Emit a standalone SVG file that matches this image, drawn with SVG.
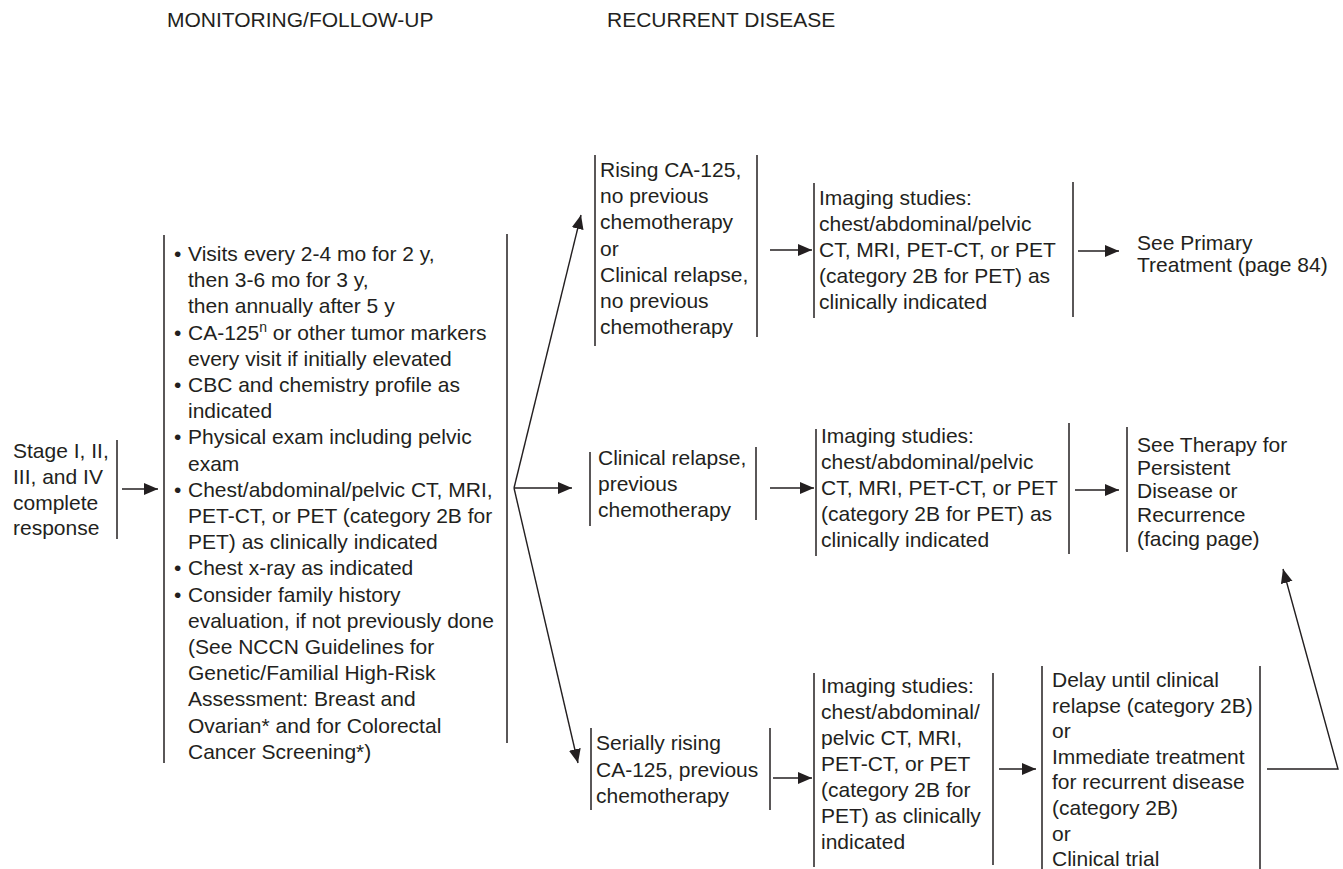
<svg xmlns="http://www.w3.org/2000/svg" width="1343" height="869" viewBox="0 0 1343 869">
<style>
text{font-family:"Liberation Sans",Arial,sans-serif;font-size:21px;fill:#231f20}
.bar{stroke:#231f20;stroke-width:1.5;fill:none}
.con{stroke:#231f20;stroke-width:1.4;fill:none}
.arr{marker-end:url(#ah)}
</style>
<defs>
<marker id="ah" markerUnits="userSpaceOnUse" markerWidth="16" markerHeight="14" refX="14" refY="6" orient="auto">
<path d="M0,0 L14,6 L0,12 Z" fill="#231f20"/>
</marker>
</defs>
<rect width="1343" height="869" fill="#fff"/>
<g id="headers">
<text x="167" y="27">MONITORING/FOLLOW-UP</text>
<text x="607" y="27">RECURRENT DISEASE</text>
</g>
<g id="connectors">
<line class="con arr" x1="122" y1="489" x2="158" y2="489"/>
<line class="con arr" x1="514" y1="488" x2="581" y2="215"/>
<line class="con arr" x1="514" y1="488" x2="572" y2="488"/>
<line class="con arr" x1="514" y1="488" x2="578" y2="763"/>
<line class="con arr" x1="770" y1="250" x2="812" y2="250"/>
<line class="con arr" x1="1078" y1="251" x2="1119" y2="251"/>
<line class="con arr" x1="770" y1="488" x2="814" y2="488"/>
<line class="con arr" x1="1075" y1="490" x2="1119" y2="490"/>
<line class="con arr" x1="773" y1="778" x2="812" y2="778"/>
<line class="con arr" x1="999" y1="769" x2="1036" y2="769"/>
<polyline class="con arr" points="1267,769 1338,769 1283,569"/>
</g>
<g id="stage">
<line class="bar" x1="117" y1="440" x2="117" y2="539"/>
<text x="13" y="458">Stage I, II,</text>
<text x="13" y="484">III, and IV</text>
<text x="13" y="510">complete</text>
<text x="13" y="535">response</text>
</g>
<g id="followup">
<line class="bar" x1="164" y1="235" x2="164" y2="763"/>
<line class="bar" x1="507" y1="234" x2="507" y2="743"/>
<text x="174" y="261">•</text>
<text x="188" y="261">Visits every 2-4 mo for 2 y,</text>
<text x="188" y="287.2">then 3-6 mo for 3 y,</text>
<text x="188" y="313.4">then annually after 5 y</text>
<text x="174" y="339.6">•</text>
<text x="188" y="339.6">CA-125<tspan font-size="14" dy="-8">n</tspan><tspan dy="8"> or other tumor markers</tspan></text>
<text x="188" y="365.8">every visit if initially elevated</text>
<text x="174" y="392">•</text>
<text x="188" y="392">CBC and chemistry profile as</text>
<text x="188" y="418.2">indicated</text>
<text x="174" y="444.4">•</text>
<text x="188" y="444.4">Physical exam including pelvic</text>
<text x="188" y="470.6">exam</text>
<text x="174" y="496.8">•</text>
<text x="188" y="496.8">Chest/abdominal/pelvic CT, MRI,</text>
<text x="188" y="523">PET-CT, or PET (category 2B for</text>
<text x="188" y="549.2">PET) as clinically indicated</text>
<text x="174" y="575.4">•</text>
<text x="188" y="575.4">Chest x-ray as indicated</text>
<text x="174" y="601.6">•</text>
<text x="188" y="601.6">Consider family history</text>
<text x="188" y="627.8">evaluation, if not previously done</text>
<text x="188" y="654">(See NCCN Guidelines for</text>
<text x="188" y="680.2">Genetic/Familial High-Risk</text>
<text x="188" y="706.4">Assessment: Breast and</text>
<text x="188" y="732.6">Ovarian* and for Colorectal</text>
<text x="188" y="758.8">Cancer Screening*)</text>
</g>
<g id="rising">
<line class="bar" x1="595" y1="155" x2="595" y2="346"/>
<line class="bar" x1="757" y1="155" x2="757" y2="337"/>
<text x="600" y="177">Rising CA-125,</text>
<text x="600" y="203.2">no previous</text>
<text x="600" y="229.4">chemotherapy</text>
<text x="600" y="255.6">or</text>
<text x="600" y="281.8">Clinical relapse,</text>
<text x="600" y="308">no previous</text>
<text x="600" y="334.2">chemotherapy</text>
</g>
<g id="imaging1">
<line class="bar" x1="814" y1="183" x2="814" y2="318"/>
<line class="bar" x1="1073" y1="182" x2="1073" y2="317"/>
<text x="819" y="205">Imaging studies:</text>
<text x="819" y="231">chest/abdominal/pelvic</text>
<text x="819" y="257">CT, MRI, PET-CT, or PET</text>
<text x="819" y="283">(category 2B for PET) as</text>
<text x="819" y="309">clinically indicated</text>
</g>
<g id="primary">
<text x="1137" y="250">See Primary</text>
<text x="1137" y="272">Treatment (page 84)</text>
</g>
<g id="relapse">
<line class="bar" x1="590" y1="452" x2="590" y2="526"/>
<line class="bar" x1="756" y1="447" x2="756" y2="520"/>
<text x="598" y="465">Clinical relapse,</text>
<text x="598" y="491">previous</text>
<text x="598" y="517">chemotherapy</text>
</g>
<g id="imaging2">
<line class="bar" x1="816" y1="429" x2="816" y2="556"/>
<line class="bar" x1="1069" y1="423" x2="1069" y2="554"/>
<text x="821" y="443">Imaging studies:</text>
<text x="821" y="469">chest/abdominal/pelvic</text>
<text x="821" y="495">CT, MRI, PET-CT, or PET</text>
<text x="821" y="521">(category 2B for PET) as</text>
<text x="821" y="547">clinically indicated</text>
</g>
<g id="therapy">
<line class="bar" x1="1127" y1="427" x2="1127" y2="552"/>
<text x="1137" y="452">See Therapy for</text>
<text x="1137" y="475">Persistent</text>
<text x="1137" y="498">Disease or</text>
<text x="1137" y="522">Recurrence</text>
<text x="1137" y="546">(facing page)</text>
</g>
<g id="serially">
<line class="bar" x1="591" y1="728" x2="591" y2="810"/>
<line class="bar" x1="770" y1="728" x2="770" y2="810"/>
<text x="596" y="750">Serially rising</text>
<text x="596" y="776.5">CA-125, previous</text>
<text x="596" y="803">chemotherapy</text>
</g>
<g id="imaging3">
<line class="bar" x1="814" y1="673" x2="814" y2="867"/>
<line class="bar" x1="993" y1="673" x2="993" y2="865"/>
<text x="821" y="693">Imaging studies:</text>
<text x="821" y="719">chest/abdominal/</text>
<text x="821" y="745">pelvic CT, MRI,</text>
<text x="821" y="771">PET-CT, or PET</text>
<text x="821" y="797">(category 2B for</text>
<text x="821" y="823">PET) as clinically</text>
<text x="821" y="849">indicated</text>
</g>
<g id="delay">
<line class="bar" x1="1042" y1="666" x2="1042" y2="869"/>
<line class="bar" x1="1260" y1="666" x2="1260" y2="869"/>
<text x="1052" y="687">Delay until clinical</text>
<text x="1052" y="712.6">relapse (category 2B)</text>
<text x="1052" y="738.2">or</text>
<text x="1052" y="763.8">Immediate treatment</text>
<text x="1052" y="789.4">for recurrent disease</text>
<text x="1052" y="815">(category 2B)</text>
<text x="1052" y="840.6">or</text>
<text x="1052" y="866">Clinical trial</text>
</g>
</svg>
